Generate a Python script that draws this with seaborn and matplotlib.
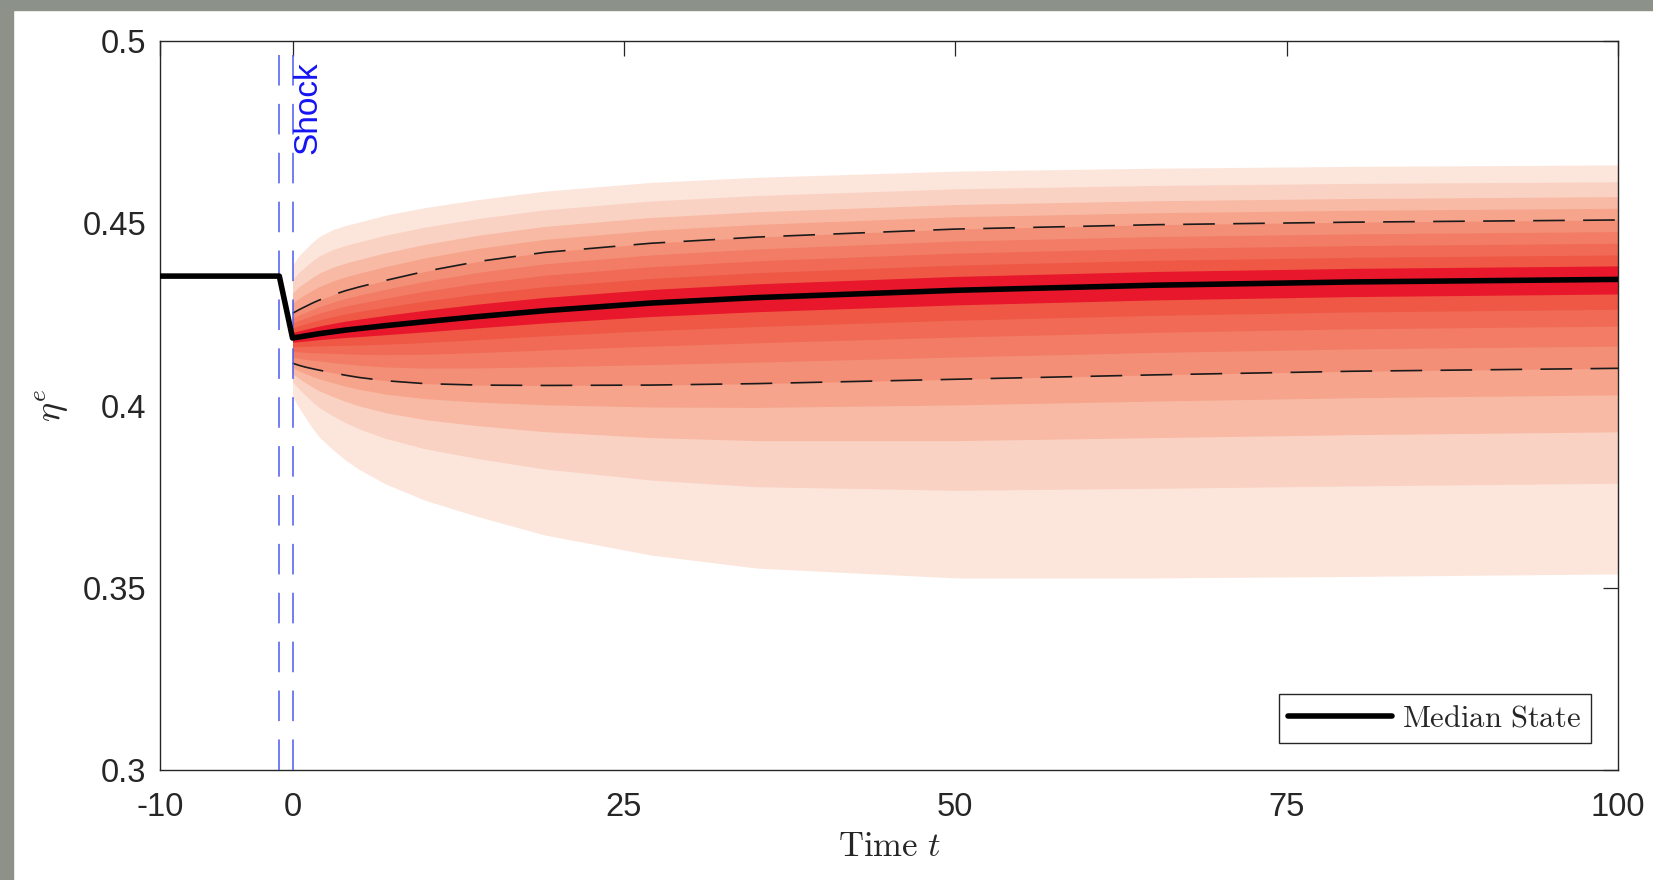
import numpy as np
import pandas as pd
import matplotlib
matplotlib.use("Agg")
import matplotlib.pyplot as plt
from matplotlib.patches import Rectangle
import seaborn as sns

# ---------------- data ----------------
t_pre = [-10, -1]
median_pre = [0.4355, 0.4355]

t_post = [0, 0.5, 1, 1.5, 2, 3, 4, 5, 7, 10, 14, 19, 27, 35, 50, 65, 80, 100]
median_post = [0.4185, 0.4188, 0.4191, 0.4194, 0.4197, 0.4202, 0.4207, 0.4211,
               0.4219, 0.4230, 0.4244, 0.4260, 0.4281, 0.4296, 0.4316, 0.4330,
               0.4339, 0.4346]
q95 = [0.4385, 0.4412, 0.4430, 0.4448, 0.4463, 0.4482, 0.4494, 0.4503,
       0.4522, 0.4543, 0.4565, 0.4588, 0.4612, 0.4626, 0.4643, 0.4651,
       0.4656, 0.4660]
q75 = [0.4253, 0.4263, 0.4272, 0.4281, 0.4289, 0.4303, 0.4315, 0.4325,
       0.4343, 0.4368, 0.4395, 0.4420, 0.4445, 0.4462, 0.4484, 0.4496,
       0.4503, 0.4509]
q25 = [0.4116, 0.4110, 0.4105, 0.4101, 0.4097, 0.4090, 0.4083, 0.4077,
       0.4068, 0.4060, 0.4056, 0.4055, 0.4056, 0.4060, 0.4072, 0.4084,
       0.4094, 0.4102]
q05 = [0.4024, 0.3993, 0.3965, 0.3938, 0.3914, 0.3880, 0.3850, 0.3825,
       0.3785, 0.3740, 0.3695, 0.3645, 0.3590, 0.3554, 0.3527, 0.3527,
       0.3531, 0.3538]

# relative positions of intermediate fan boundaries (read at t = 100)
frac_lower_outer = [0.559, 0.309, 0.129]         # between q25 and q05
frac_lower_inner = [0.75, 0.525, 0.336, 0.164]   # between median and q25
frac_upper_inner = [0.227, 0.411, 0.607, 0.804]  # between median and q75
frac_upper_outer = [0.212, 0.424, 0.695]         # between q75 and q95

x_ticks = [-10, 0, 25, 50, 75, 100]
y_ticks = [0.3, 0.35, 0.4, 0.45, 0.5]
y_ticklabels = ["0.3", "0.35", "0.4", "0.45", "0.5"]
shock_times = [-1, 0]

# ---------------- styling ----------------
sns.set_style("white")
plt.rcParams["font.family"] = ["Liberation Sans", "DejaVu Sans"]
plt.rcParams["mathtext.fontset"] = "cm"

band_colors = ["#E8172B", "#EE5844", "#F06A55", "#F27C65", "#F48F77",
               "#F6A48C", "#F8BAA4", "#FAD2C3", "#FCE6DC"]

fig = plt.figure(figsize=(16.53, 8.8), dpi=100)
fig.patch.set_facecolor("white")
fig.patches.append(Rectangle((0, 1 - 10 / 880), 1, 10 / 880, transform=fig.transFigure,
                             color="#8C918A", zorder=0))
fig.patches.append(Rectangle((0, 0), 13 / 1653, 1, transform=fig.transFigure,
                             color="#8C918A", zorder=0))

ax = fig.add_axes([160 / 1653, 1 - 770 / 880, 1458 / 1653, 729 / 880])

# ---------------- build fan boundaries ----------------
T = np.array(t_post)
M = np.array(median_post)
U = np.array(q75)
L = np.array(q25)
TOP = np.array(q95)
BOT = np.array(q05)

bounds = [BOT]
bounds += [L + f * (BOT - L) for f in frac_lower_outer]
bounds += [L]
bounds += [M + f * (L - M) for f in frac_lower_inner]
bounds += [M + f * (U - M) for f in frac_upper_inner]
bounds += [U]
bounds += [U + f * (TOP - U) for f in frac_upper_outer]
bounds += [TOP]
# 18 boundaries -> 17 bands, center band is between index 8 and 9

for d in range(8, -1, -1):
    lo = bounds[8 - d]
    hi = bounds[9 + d]
    ax.fill_between(T, lo, hi, color=band_colors[d], linewidth=0, zorder=1)

# quartile dashed lines
dash_df = pd.DataFrame({"t": t_post, "q75": q75, "q25": q25})
sns.lineplot(data=dash_df, x="t", y="q75", ax=ax, color="#1a1a1a", lw=1.2,
             legend=False, zorder=2).lines[-1].set_dashes((19, 11))
sns.lineplot(data=dash_df, x="t", y="q25", ax=ax, color="#1a1a1a", lw=1.2,
             legend=False, zorder=2).lines[-1].set_dashes((19, 11))

# shock lines
for st in shock_times:
    ax.axvline(st, color="#4B5AF0", lw=1.1, dashes=(20, 12), zorder=3)
ax.text(1.2, 0.4945, "Shock", rotation=90, color="#1515F5", fontsize=24,
        ha="center", va="top", zorder=5)

# median line
med_df = pd.DataFrame({"t": t_pre + t_post, "median": median_pre + median_post})
sns.lineplot(data=med_df, x="t", y="median", ax=ax, color="black", lw=4,
             legend=False, zorder=4, sort=False)
med_line = ax.lines[-1]

# ---------------- axes ----------------
ax.set_xlim(-10, 100)
ax.set_ylim(0.3, 0.5)
ax.set_xticks(x_ticks)
ax.set_xticklabels([str(v) for v in x_ticks])
ax.set_yticks(y_ticks)
ax.set_yticklabels(y_ticklabels)
for s in ax.spines.values():
    s.set_visible(True)
    s.set_color("#262626")
    s.set_linewidth(1.0)
ax.tick_params(axis="both", direction="in", length=10.5, width=0.9, color="#262626",
               top=True, right=True, labelsize=23.5, labelcolor="#262626")
ax.tick_params(axis="x", pad=16)
ax.tick_params(axis="y", pad=10)
ax.set_xlabel(r"$\mathrm{Time}\ t$", fontsize=25, labelpad=5, color="#262626")
ax.set_ylabel(r"$\eta^e$", fontsize=26, labelpad=9, color="#262626")

leg = ax.legend(handles=[med_line], labels=[r"$\mathrm{Median\ State}$"],
                loc="lower right", frameon=True, fancybox=False, framealpha=1,
                edgecolor="#262626", fontsize=22, handlelength=3.4,
                handletextpad=0.35, borderaxespad=0.9, borderpad=0.3)
leg.get_frame().set_linewidth(1.0)

fig.savefig("out.png", dpi=100)
